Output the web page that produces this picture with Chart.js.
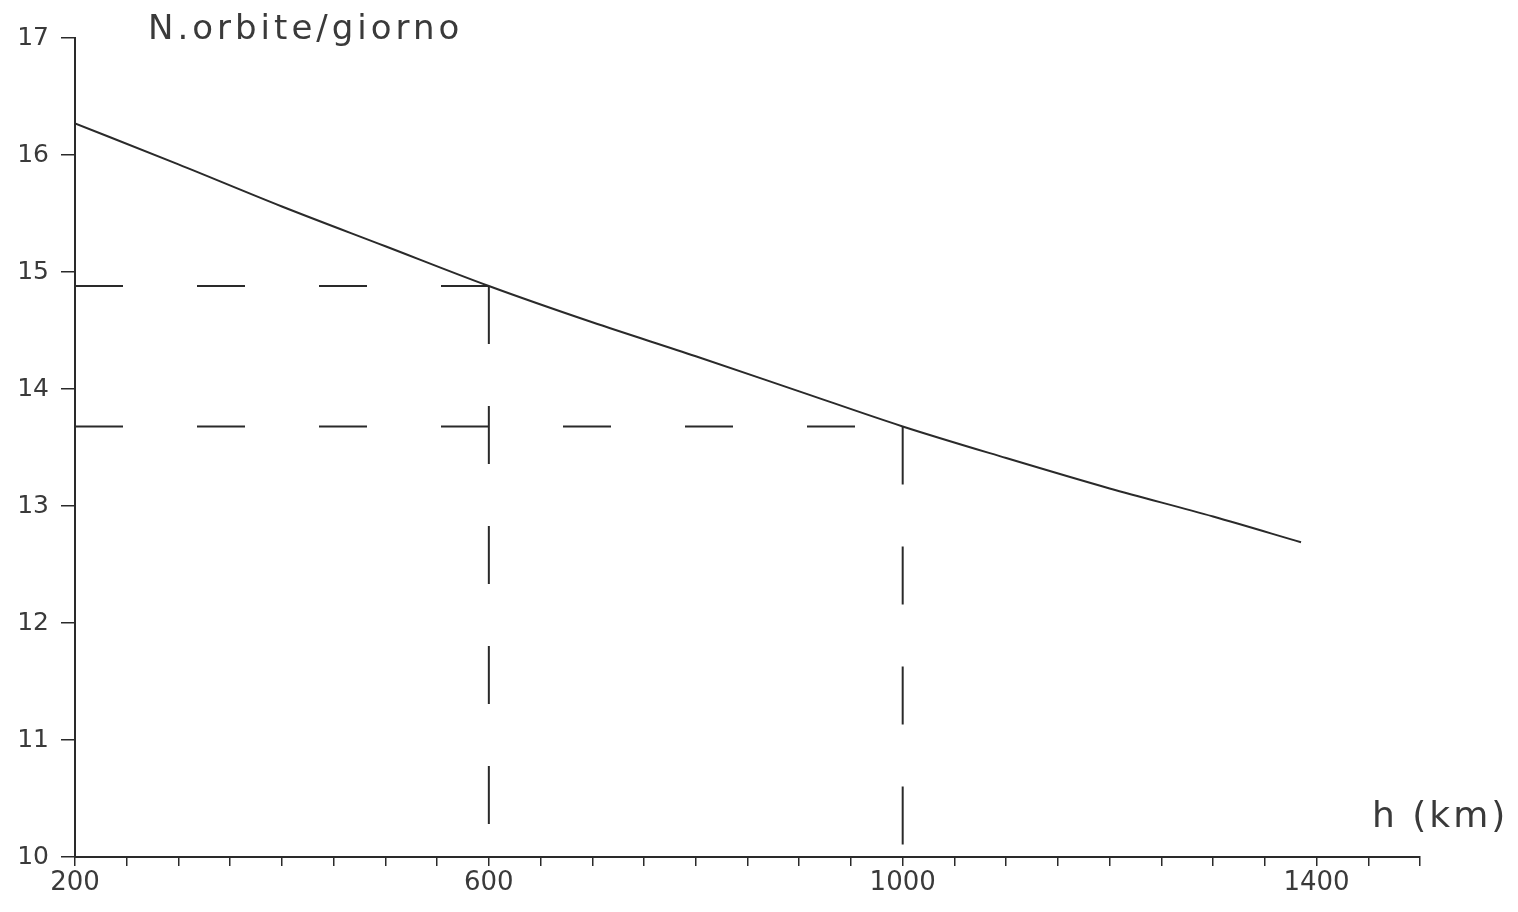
<!DOCTYPE html>
<html>
<head>
<meta charset="utf-8">
<script src="https://cdn.jsdelivr.net/npm/chart.js@4.4.0/dist/chart.umd.min.js"></script>
<style>
  html, body { margin: 0; padding: 0; background: #fff; }
  #wrap { width: 1518px; height: 912px; position: relative; }
</style>
</head>
<body>
<div id="wrap"><canvas id="grafico"></canvas></div>
<script>
// curva: numero di orbite al giorno in funzione della quota
const altitudes = [200, 300, 400, 500, 600, 700, 800, 900, 1000, 1100, 1200, 1300, 1385];
const orbitsPerDay = [16.27, 15.92, 15.56, 15.22, 14.88, 14.57, 14.28, 13.98, 13.68, 13.41, 13.15, 12.91, 12.69];

// linee tratteggiate di riferimento
const refAltitudes = [600, 1000];
const refOrbits = [14.88, 13.68];

const xTickLabels = [200, 600, 1000, 1400];
const yTickLabels = [10, 11, 12, 13, 14, 15, 16, 17];

const ink = "#2a2a2a";
const textInk = "#3a3a3a";

const datasets = [{
  data: altitudes.map((h, i) => ({ x: h, y: orbitsPerDay[i] })),
  showLine: true,
  borderColor: ink,
  borderWidth: 2,
  pointRadius: 0,
  cubicInterpolationMode: "monotone"
}];

refAltitudes.forEach((h, i) => {
  // orizzontale dall'asse y fino alla curva
  datasets.push({
    data: [{ x: xTickLabels[0], y: refOrbits[i] }, { x: h, y: refOrbits[i] }],
    showLine: true,
    borderColor: ink,
    borderWidth: 2,
    borderDash: [48, 74],
    pointRadius: 0
  });
  // verticale dalla curva fino all'asse x
  datasets.push({
    data: [{ x: h, y: refOrbits[i] }, { x: h, y: yTickLabels[0] }],
    showLine: true,
    borderColor: ink,
    borderWidth: 2,
    borderDash: [58, 62],
    pointRadius: 0
  });
});

const axisTitles = {
  id: "axisTitles",
  afterDraw(chart) {
    const ctx = chart.ctx;
    ctx.save();
    ctx.fillStyle = textInk;
    ctx.textBaseline = "middle";
    ctx.textAlign = "left";
    ctx.font = "34px 'DejaVu Sans'";
    ctx.letterSpacing = "4px";
    ctx.fillText("N.orbite/giorno", 148, 30);
    ctx.font = "36px 'DejaVu Sans'";
    ctx.letterSpacing = "3px";
    ctx.fillText("h (km)", 1372, 818);
    ctx.restore();
  }
};

new Chart(document.getElementById("grafico"), {
  type: "scatter",
  data: { datasets },
  options: {
    responsive: true,
    maintainAspectRatio: false,
    animation: false,
    layout: { padding: { top: 38, right: 98, left: 0, bottom: 0 } },
    plugins: {
      legend: { display: false },
      tooltip: { enabled: false }
    },
    scales: {
      x: {
        type: "linear",
        min: 200,
        max: 1500,
        afterFit: (scale) => { scale.height = 55; },
        border: { display: true, color: ink, width: 2 },
        grid: { drawOnChartArea: false, drawTicks: true, tickLength: 9, color: ink, lineWidth: 1.5 },
        ticks: {
          stepSize: 50,
          autoSkip: false,
          maxRotation: 0,
          padding: 2,
          color: textInk,
          font: { family: "'DejaVu Sans'", size: 26 },
          callback: (v) => xTickLabels.includes(v) ? String(v) : ""
        }
      },
      y: {
        type: "linear",
        min: 10,
        max: 17,
        afterFit: (scale) => { scale.width = 75; },
        border: { display: true, color: ink, width: 2 },
        grid: { drawOnChartArea: false, drawTicks: true, tickLength: 14, color: ink, lineWidth: 1.5 },
        ticks: {
          stepSize: 1,
          padding: 12,
          color: textInk,
          font: { family: "'DejaVu Sans'", size: 25 },
          callback: (v) => yTickLabels.includes(v) ? String(v) : ""
        }
      }
    }
  },
  plugins: [axisTitles]
});
</script>
</body>
</html>
